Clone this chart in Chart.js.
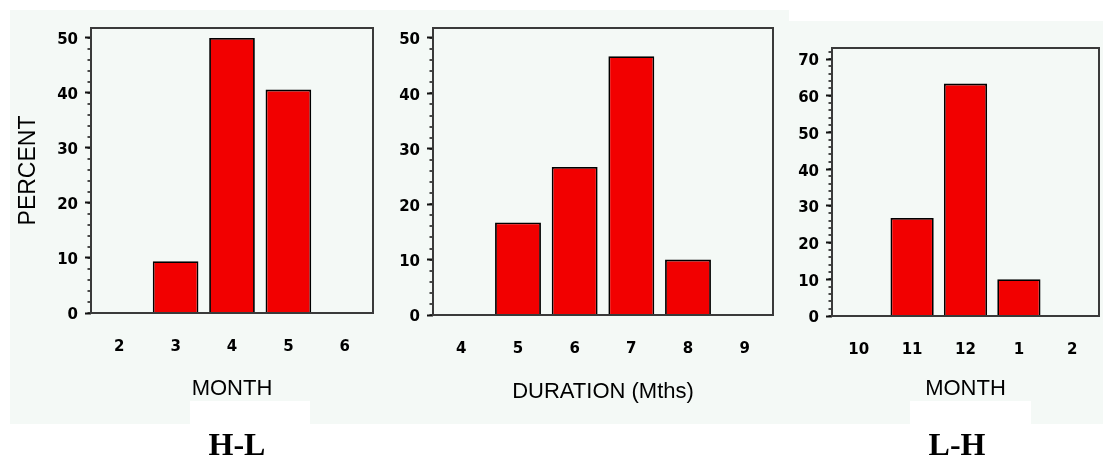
<!DOCTYPE html>
<html>
<head>
<meta charset="utf-8">
<script src="https://cdn.jsdelivr.net/npm/chart.js@4.4.1/dist/chart.umd.min.js"></script>
<style>
  html, body { margin: 0; padding: 0; background: #fff; }
  #page { position: relative; width: 1103px; height: 459px; overflow: hidden; }
  .bg { position: absolute; background: #f4f9f6; }
  .blank { position: absolute; background: #fff; }
  canvas { position: absolute; top: 0; }
  .tag {
    position: absolute; top: 426px; width: 120px; text-align: center;
    font: bold 32px "Liberation Serif", "Times New Roman", serif; color: #000;
  }
</style>
</head>
<body>
<div id="page">
  <div class="bg" style="left:10px;top:10px;width:1093px;height:414px"></div>
  <div class="blank" style="left:789px;top:0;width:314px;height:21px"></div>
  <div class="blank" style="left:190px;top:401px;width:120px;height:23px"></div>
  <div class="blank" style="left:910px;top:401px;width:121px;height:23px"></div>

  <canvas id="hl" width="380" height="459" style="left:0"></canvas>
  <canvas id="dur" width="400" height="459" style="left:380px"></canvas>
  <canvas id="lh" width="323" height="459" style="left:780px"></canvas>

  <div class="tag" style="left:177px">H-L</div>
  <div class="tag" style="left:897px">L-H</div>
</div>
<script>
// high-to-low transition month
const hlMonths = ["2", "3", "4", "5", "6"]
const hlPercent = [0, 9.4, 50, 40.6, 0]

// duration of the phase, months
const durMonths = ["4", "5", "6", "7", "8", "9"]
const durPercent = [0, 16.7, 26.7, 46.7, 10, 0]

// low-to-high transition month
const lhMonths = ["10", "11", "12", "1", "2"]
const lhPercent = [0, 26.7, 63.3, 10, 0]

const tickFont = { family: "'DejaVu Sans', sans-serif", size: 15, weight: "bold" }
const titleFont = { family: "'Liberation Sans', Arial, sans-serif", size: 22 }

// box round the plot area plus the short minor ticks on the value axis
const framePlugin = {
  id: "frame",
  afterDraw(chart, args, opts) {
    const { ctx, chartArea: a, scales: { y } } = chart
    ctx.save()
    ctx.strokeStyle = "#111"
    ctx.lineWidth = 1.5
    ctx.beginPath()
    for (let v = 0; v <= y.max + 0.001; v += opts.minorStep) {
      const py = Math.round(y.getPixelForValue(v))
      ctx.moveTo(a.left - 3.5, py)
      ctx.lineTo(a.left, py)
    }
    ctx.stroke()
    ctx.strokeStyle = "#3a3a3a"
    ctx.lineWidth = 2
    ctx.strokeRect(a.left, a.top, a.right - a.left, a.bottom - a.top)
    ctx.restore()
  }
}

function makePanel(id, labels, values, cfg) {
  const ctx = document.getElementById(id).getContext("2d")
  return new Chart(ctx, {
    type: "bar",
    data: {
      labels: labels,
      datasets: [{
        data: values,
        backgroundColor: "#f20000",
        borderColor: "#000",
        borderWidth: 1.8,
        barPercentage: 0.81,
        categoryPercentage: 1
      }]
    },
    options: {
      responsive: false,
      animation: false,
      events: [],
      devicePixelRatio: 1,
      layout: { padding: { left: 0, top: cfg.top, right: cfg.right, bottom: 0 } },
      scales: {
        x: {
          grid: { display: false, drawTicks: false, tickLength: 0 },
          border: { display: false },
          ticks: { font: tickFont, color: "#000", padding: 25, maxRotation: 0, autoSkip: false },
          title: {
            display: true,
            text: cfg.xTitle,
            font: titleFont,
            color: "#000",
            padding: { top: 0, bottom: cfg.xTitlePad }
          },
          afterFit: scale => { scale.height = cfg.xHeight }
        },
        y: {
          min: 0,
          max: cfg.yMax,
          grid: {
            drawOnChartArea: false,
            drawTicks: true,
            tickLength: 6,
            tickColor: "#111",
            tickWidth: 2
          },
          border: { display: false },
          ticks: {
            stepSize: 10,
            includeBounds: false,
            font: tickFont,
            color: "#000",
            padding: 7,
            labelOffset: 2.5
          },
          title: {
            display: !!cfg.yTitle,
            text: cfg.yTitle || "",
            font: { family: "'Liberation Sans', Arial, sans-serif", size: 23 },
            color: "#000",
            padding: { top: 15, bottom: 0 }
          },
          afterFit: scale => { scale.width = cfg.yWidth }
        }
      },
      plugins: {
        legend: { display: false },
        tooltip: { enabled: false },
        frame: { minorStep: 2 }
      }
    },
    plugins: [framePlugin]
  })
}

makePanel("hl", hlMonths, hlPercent, {
  top: 28, right: 7, yWidth: 91, xHeight: 146, yMax: 51.8,
  xTitle: "MONTH", xTitlePad: 57, yTitle: "PERCENT"
})

makePanel("dur", durMonths, durPercent, {
  top: 28, right: 7, yWidth: 53, xHeight: 144, yMax: 51.8,
  xTitle: "DURATION (Mths)", xTitlePad: 54
})

makePanel("lh", lhMonths, lhPercent, {
  top: 48, right: 4, yWidth: 52, xHeight: 143, yMax: 73,
  xTitle: "MONTH", xTitlePad: 57
})
</script>
</body>
</html>
